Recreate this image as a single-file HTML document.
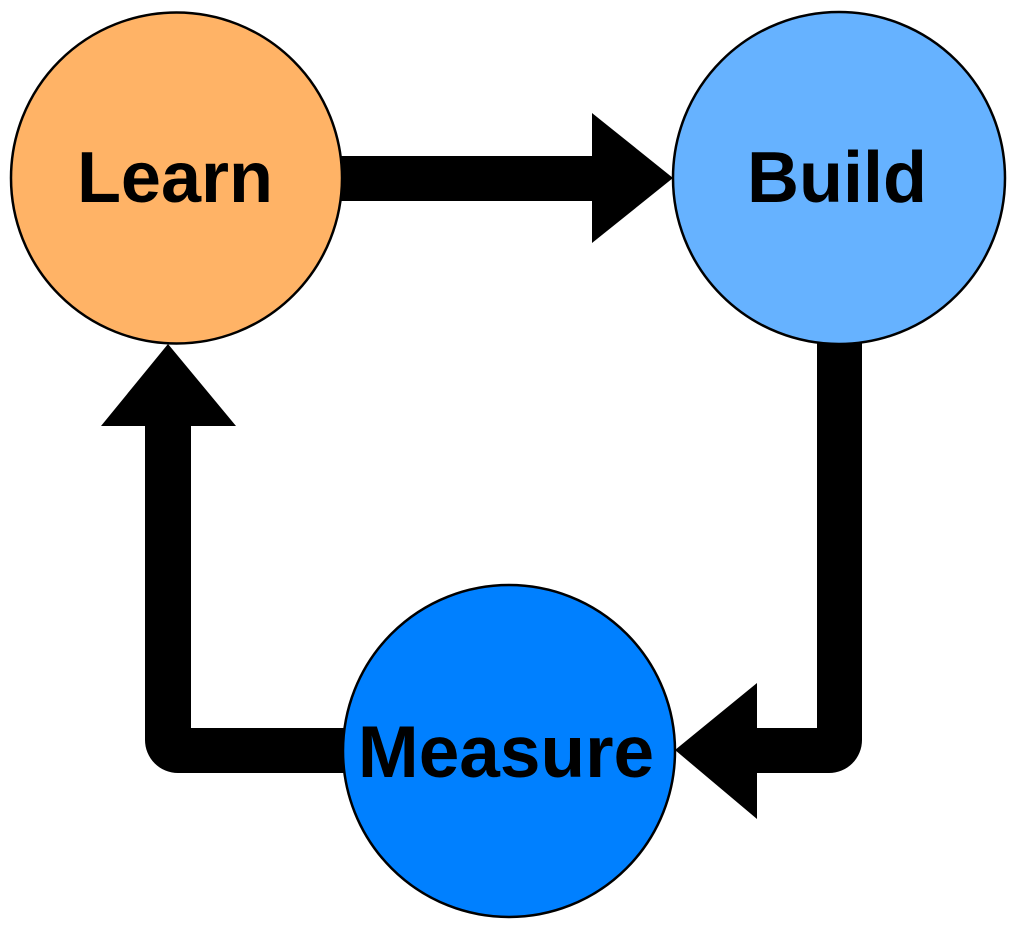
<!DOCTYPE html>
<html>
<head>
<meta charset="utf-8">
<style>
html,body{margin:0;padding:0;background:#ffffff;}
svg{display:block;}
text{font-family:"Liberation Sans",Arial,sans-serif;font-weight:bold;fill:#000;}
</style>
</head>
<body>
<svg width="1024" height="935" viewBox="0 0 1024 935" xmlns="http://www.w3.org/2000/svg">
  <rect width="1024" height="935" fill="#ffffff"/>
  <!-- Learn -> Build arrow -->
  <polygon points="340,156 592,156 592,113 673,178 592,243 592,201 340,201" fill="#000"/>
  <!-- Build -> Measure arrow -->
  <path d="M817 340 L862 340 L862 740 A33 33 0 0 1 829 773 L757 773 L757 819 L675 750 L757 683 L757 728 L817 728 Z" fill="#000"/>
  <!-- Measure -> Learn arrow -->
  <path d="M346 728 L346 773 L178 773 A33 33 0 0 1 145 740 L145 426 L101 426 L168 344 L236 426 L191 426 L191 728 Z" fill="#000"/>
  <!-- Circles -->
  <circle cx="176.5" cy="178" r="165.5" fill="#FFB366" stroke="#000" stroke-width="2.5"/>
  <circle cx="839" cy="178" r="166" fill="#66B2FF" stroke="#000" stroke-width="2.5"/>
  <circle cx="509" cy="751" r="166" fill="#0080FF" stroke="#000" stroke-width="2.5"/>
  <!-- Labels -->
  <text x="175" y="202" font-size="72" text-anchor="middle">Learn</text>
  <text x="837" y="202" font-size="72" text-anchor="middle">Build</text>
  <text x="506" y="777" font-size="73" text-anchor="middle">Measure</text>
</svg>
</body>
</html>
